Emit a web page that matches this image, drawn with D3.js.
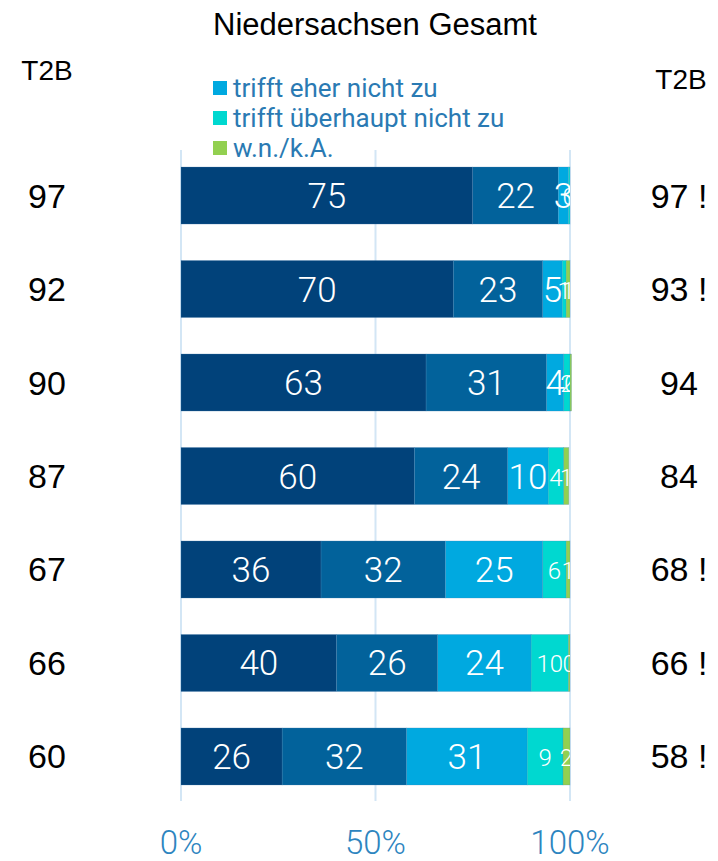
<!DOCTYPE html>
<html>
<head>
<meta charset="utf-8">
<script src="https://cdn.jsdelivr.net/npm/d3@7"></script>
<style>
  body { margin: 0; background: #fff; }
  svg { display: block; }
</style>
</head>
<body>
<svg id="chart" width="718" height="861"></svg>
<script>
// series, from left to right in each bar
const seriesNames = ["trifft voll zu", "trifft eher zu", "trifft eher nicht zu", "trifft überhaupt nicht zu", "w.n./k.A."];
const seriesColors = ["#01427a", "#02629b", "#00a9e0", "#00d8d0", "#92d050"];
const rows = ["r1", "r2", "r3", "r4", "r5", "r6", "r7"];
const voll = [75, 70, 63, 60, 36, 40, 26];
const eher = [22, 23, 31, 24, 32, 26, 32];
const eherNicht = [2.6, 5, 4.4, 10.4, 25, 24, 31];
const ueberhauptNicht = [0.4, 1, 1.6, 4, 6, 9.6, 9.2];
const wnka = [0, 1, 0.4, 1.3, 1, 0.4, 1.8];
const t2bLeft = ["97", "92", "90", "87", "67", "66", "60"];
const t2bRight = ["97 !", "93 !", "94", "84", "68 !", "66 !", "58 !"];
const ticks = [0, 50, 100];

const values = [voll, eher, eherNicht, ueberhauptNicht, wnka];
const table = rows.map((r, i) => {
  const o = { row: r };
  seriesNames.forEach((s, k) => o[s] = values[k][i]);
  return o;
});

const svg = d3.select("#chart");
const x = d3.scaleLinear().domain([0, 100]).range([181, 570]);
const y = d3.scaleBand().domain(rows).range([148.3, 803.7]).paddingInner(0.39).paddingOuter(0.2);

const stacked = d3.stack().keys(seriesNames)(table);

const sideFont = "'Liberation Sans', Arial, sans-serif";

// title
svg.append("text")
  .attr("x", 375).attr("y", 35)
  .attr("text-anchor", "middle")
  .style("font-family", sideFont)
  .style("font-size", "31px")
  .attr("fill", "#000")
  .text("Niedersachsen Gesamt");

// gridlines
svg.append("g").selectAll("line")
  .data(ticks).join("line")
  .attr("x1", d => x(d)).attr("x2", d => x(d))
  .attr("y1", 150).attr("y2", 801)
  .attr("stroke", "#d3e6f5").attr("stroke-width", 2);

svg.append("defs").append("clipPath").attr("id", "plotclip")
  .append("rect").attr("x", x(0)).attr("y", 0).attr("width", x(100) - x(0)).attr("height", 861);

// bars
const layers = svg.append("g").selectAll("g.layer")
  .data(stacked).join("g")
  .attr("class", "layer")
  .attr("fill", (d, i) => seriesColors[i]);

layers.selectAll("rect")
  .data(d => d).join("rect")
  .attr("x", d => x(d[0]))
  .attr("y", d => y(d.data.row))
  .attr("width", d => x(d[1]) - x(d[0]))
  .attr("height", y.bandwidth())
  .attr("stroke", "#4f86b5").attr("stroke-width", 0.5).attr("stroke-opacity", 0.5);

// segment labels, small series get a smaller font
const labels = svg.append("g").attr("clip-path", "url(#plotclip)");
stacked.forEach((layer, k) => {
  labels.selectAll("text.s" + k)
    .data(layer.filter(d => d[1] - d[0] > 0.3)).join("text")
    .attr("class", "s" + k)
    .attr("x", d => x((d[0] + d[1]) / 2))
    .attr("y", d => y(d.data.row) + y.bandwidth() / 2 + (k < 3 ? 12.5 : 9.5))
    .attr("text-anchor", "middle")
    .style("font-family", "Roboto, sans-serif")
    .style("font-weight", 300)
    .style("font-size", k < 3 ? "35px" : "24px")
    .attr("fill", "#fff")
    .text(d => Math.round(d[1] - d[0]));
});

// T2B columns
svg.append("text").attr("x", 47).attr("y", 80).attr("text-anchor", "middle")
  .style("font-family", sideFont).style("font-size", "28px").text("T2B");
svg.append("text").attr("x", 681).attr("y", 89).attr("text-anchor", "middle")
  .style("font-family", sideFont).style("font-size", "28px").text("T2B");

svg.append("g").selectAll("text")
  .data(rows).join("text")
  .attr("x", 47)
  .attr("y", d => y(d) + y.bandwidth() / 2 + 12)
  .attr("text-anchor", "middle")
  .style("font-family", sideFont).style("font-size", "34px")
  .text((d, i) => t2bLeft[i]);

svg.append("g").selectAll("text")
  .data(rows).join("text")
  .attr("x", 679)
  .attr("y", d => y(d) + y.bandwidth() / 2 + 12)
  .attr("text-anchor", "middle")
  .style("font-family", sideFont).style("font-size", "34px")
  .text((d, i) => t2bRight[i]);

// legend (upper entries are cut off in the original)
const legendItems = seriesNames.slice(2);
const legend = svg.append("g").selectAll("g")
  .data(legendItems).join("g")
  .attr("transform", (d, i) => `translate(213, ${88 + i * 30})`);
legend.append("rect")
  .attr("x", 0).attr("y", -7).attr("width", 14).attr("height", 14)
  .attr("fill", (d, i) => seriesColors[i + 2]);
legend.append("text")
  .attr("x", 20).attr("y", 9)
  .style("font-family", "Roboto, sans-serif").style("font-size", "26px")
  .attr("fill", "#2a7ab3")
  .text(d => d);

// x axis labels
svg.append("g").selectAll("text")
  .data(ticks).join("text")
  .attr("x", d => x(d))
  .attr("y", 854)
  .attr("text-anchor", "middle")
  .style("font-family", "Roboto, sans-serif").style("font-size", "33px")
  .style("font-weight", 300)
  .attr("fill", "#2d85bf")
  .text(d => d + "%");
</script>
</body>
</html>
